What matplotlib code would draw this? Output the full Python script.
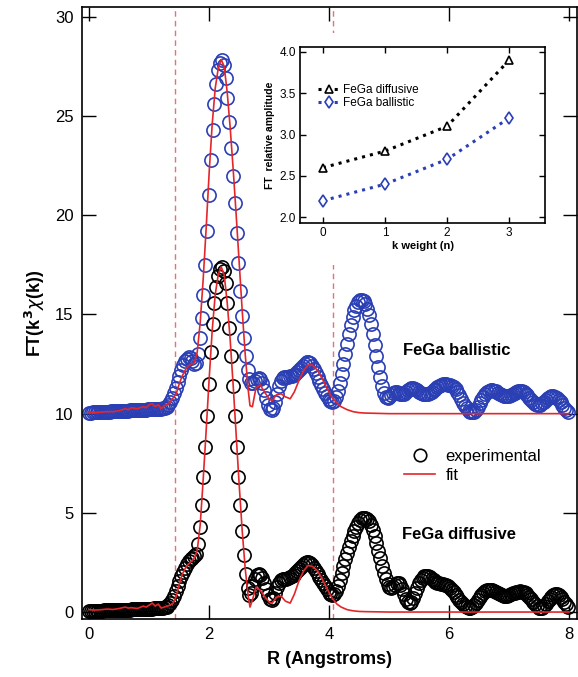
#! /usr/bin/env python3

'''FT magnitude of FeGa EXAFS (diffusive / ballistic) with fits and k-weight inset'''

import matplotlib
matplotlib.use('Agg')
import matplotlib.pyplot as plt
from matplotlib.lines import Line2D
from matplotlib.patches import Rectangle
import numpy as np

# R grid of the experimental data (Angstroms)
R = np.arange(261) * 0.0307

# experimental FT, diffusive sample
exp_diff = [
    0.05, 0.05, 0.06, 0.06, 0.06, 0.07, 0.07, 0.07, 0.08, 0.08,
    0.08, 0.09, 0.09, 0.09, 0.10, 0.10, 0.10, 0.11, 0.11, 0.11,
    0.12, 0.12, 0.12, 0.13, 0.13, 0.13, 0.14, 0.14, 0.15, 0.15,
    0.15, 0.16, 0.16, 0.17, 0.17, 0.18, 0.18, 0.19, 0.19, 0.20,
    0.21, 0.23, 0.27, 0.33, 0.45, 0.62, 0.82, 1.05, 1.30, 1.55,
    1.80, 2.02, 2.22, 2.40, 2.55, 2.65, 2.72, 2.80, 2.95, 3.45,
    4.30, 5.40, 6.80, 8.30, 9.90, 11.50, 13.10, 14.50, 15.60, 16.40,
    16.95, 17.30, 17.40, 17.20, 16.60, 15.60, 14.30, 12.90, 11.40, 9.90,
    8.30, 6.80, 5.40, 4.10, 2.90, 1.90, 1.20, 0.85, 0.95, 1.30,
    1.65, 1.85, 1.90, 1.85, 1.70, 1.45, 1.15, 0.85, 0.65, 0.60,
    0.70, 0.95, 1.25, 1.45, 1.60, 1.65, 1.65, 1.65, 1.70, 1.75,
    1.80, 1.85, 1.95, 2.05, 2.15, 2.25, 2.35, 2.45, 2.50, 2.50,
    2.45, 2.35, 2.20, 2.05, 1.90, 1.75, 1.60, 1.45, 1.30, 1.15,
    1.00, 0.90, 0.85, 0.90, 1.05, 1.30, 1.60, 1.95, 2.30, 2.65,
    3.00, 3.30, 3.60, 3.85, 4.10, 4.30, 4.50, 4.62, 4.72, 4.76,
    4.75, 4.70, 4.58, 4.40, 4.15, 3.85, 3.50, 3.10, 2.70, 2.30,
    1.95, 1.65, 1.40, 1.25, 1.20, 1.25, 1.35, 1.45, 1.45, 1.35,
    1.15, 0.90, 0.65, 0.50, 0.45, 0.50, 0.70, 0.95, 1.20, 1.45,
    1.60, 1.72, 1.80, 1.82, 1.80, 1.75, 1.68, 1.60, 1.52, 1.48,
    1.45, 1.42, 1.40, 1.38, 1.35, 1.30, 1.22, 1.12, 1.00, 0.88,
    0.75, 0.62, 0.50, 0.40, 0.30, 0.24, 0.20, 0.20, 0.25, 0.35,
    0.48, 0.62, 0.76, 0.88, 0.98, 1.05, 1.10, 1.12, 1.12, 1.10,
    1.05, 1.00, 0.95, 0.90, 0.86, 0.83, 0.82, 0.83, 0.86, 0.90,
    0.94, 0.98, 1.01, 1.03, 1.04, 1.03, 1.00, 0.94, 0.86, 0.76,
    0.64, 0.52, 0.40, 0.30, 0.22, 0.18, 0.20, 0.28, 0.40, 0.54,
    0.67, 0.78, 0.86, 0.90, 0.90, 0.86, 0.78, 0.66, 0.52, 0.38,
    0.26]

# experimental FT, ballistic sample (offset by 10)
exp_ball = [
    10.05, 10.05, 10.06, 10.06, 10.07, 10.07, 10.08, 10.08, 10.09, 10.09,
    10.10, 10.10, 10.11, 10.11, 10.12, 10.12, 10.13, 10.13, 10.14, 10.14,
    10.15, 10.15, 10.16, 10.16, 10.17, 10.17, 10.18, 10.18, 10.19, 10.19,
    10.20, 10.20, 10.21, 10.21, 10.22, 10.22, 10.23, 10.23, 10.24, 10.25,
    10.26, 10.30, 10.36, 10.46, 10.60, 10.80, 11.05, 11.30, 11.60, 11.90,
    12.20, 12.45, 12.65, 12.78, 12.85, 12.80, 12.65, 12.50, 12.55, 13.00,
    13.80, 14.80, 16.00, 17.50, 19.20, 21.00, 22.80, 24.30, 25.60, 26.60,
    27.30, 27.70, 27.85, 27.60, 26.90, 25.90, 24.70, 23.40, 22.00, 20.60,
    19.10, 17.60, 16.20, 14.90, 13.80, 12.90, 12.20, 11.75, 11.55, 11.55,
    11.65, 11.75, 11.80, 11.75, 11.55, 11.20, 10.80, 10.45, 10.25, 10.20,
    10.30, 10.60, 11.00, 11.40, 11.65, 11.80, 11.85, 11.85, 11.85, 11.88,
    11.90, 11.95, 12.00, 12.08, 12.18, 12.30, 12.42, 12.52, 12.58, 12.60,
    12.55, 12.42, 12.25, 12.05, 11.85, 11.65, 11.45, 11.25, 11.05, 10.88,
    10.72, 10.62, 10.58, 10.65, 10.85, 11.15, 11.55, 12.00, 12.50, 13.00,
    13.50, 14.00, 14.45, 14.85, 15.20, 15.45, 15.62, 15.72, 15.75, 15.70,
    15.55, 15.30, 14.95, 14.50, 14.00, 13.45, 12.90, 12.35, 11.85, 11.40,
    11.05, 10.85, 10.80, 10.85, 10.95, 11.05, 11.10, 11.10, 11.05, 11.00,
    10.98, 11.00, 11.08, 11.18, 11.26, 11.30, 11.30, 11.26, 11.18, 11.10,
    11.04, 11.00, 10.98, 10.98, 11.00, 11.04, 11.10, 11.18, 11.26, 11.34,
    11.40, 11.45, 11.47, 11.48, 11.47, 11.45, 11.42, 11.38, 11.32, 11.22,
    11.08, 10.92, 10.74, 10.56, 10.40, 10.26, 10.15, 10.08, 10.06, 10.10,
    10.20, 10.35, 10.52, 10.70, 10.86, 10.98, 11.08, 11.14, 11.17, 11.18,
    11.16, 11.12, 11.06, 11.00, 10.95, 10.91, 10.89, 10.89, 10.91, 10.95,
    11.00, 11.05, 11.09, 11.12, 11.13, 11.12, 11.08, 11.01, 10.92, 10.81,
    10.70, 10.59, 10.50, 10.44, 10.42, 10.45, 10.52, 10.61, 10.70, 10.78,
    10.84, 10.87, 10.87, 10.84, 10.78, 10.69, 10.57, 10.43, 10.30, 10.18,
    10.10]

# fits (own R points)
fit_R = [0.0, 0.1, 0.2, 0.3, 0.4, 0.5, 0.6, 0.65, 0.7, 0.8,
         0.9, 0.95, 1.0, 1.05, 1.1, 1.15, 1.2, 1.25, 1.3, 1.35,
         1.4, 1.45, 1.5, 1.55, 1.6, 1.65, 1.7, 1.75, 1.8, 1.85,
         1.9, 1.95, 2.0, 2.05, 2.1, 2.15, 2.2, 2.25, 2.3, 2.35,
         2.4, 2.45, 2.5, 2.55, 2.6, 2.65, 2.68, 2.72, 2.78, 2.85,
         2.92, 3.0, 3.05, 3.12, 3.2, 3.27, 3.35, 3.42, 3.5, 3.58,
         3.65, 3.72, 3.8, 3.88, 3.96, 4.05, 4.13, 4.2, 4.3, 4.4,
         4.5, 4.6, 5.0, 6.0, 7.0, 8.0]
fit_diff = [0.12, 0.10, 0.12, 0.15, 0.13, 0.18, 0.25, 0.20, 0.22, 0.18,
            0.30, 0.25, 0.35, 0.45, 0.30, 0.40, 0.20, 0.25, 0.30, 0.35,
            0.45, 0.80, 1.40, 1.90, 2.20, 2.40, 2.55, 2.70, 3.10, 4.40,
            6.70, 9.20, 11.80, 14.20, 16.00, 17.00, 17.40, 17.00, 15.60, 13.70,
            11.40, 8.90, 6.40, 4.10, 2.20, 0.80, 0.25, 0.60, 1.25, 1.10,
            0.80, 0.50, 0.45, 0.75, 0.80, 0.55, 0.45, 0.90, 1.60, 2.10,
            2.35, 2.30, 2.10, 1.70, 1.20, 0.70, 0.40, 0.25, 0.12, 0.06,
            0.03, 0.02, 0.0, 0.0, 0.0, 0.0]
fit_ball = [10.05, 10.05, 10.08, 10.10, 10.10, 10.15, 10.25, 10.20, 10.30, 10.25,
            10.35, 10.30, 10.45, 10.50, 10.35, 10.45, 10.25, 10.40, 10.45, 10.60,
            10.80, 11.00, 11.50, 11.90, 12.20, 12.40, 12.50, 12.55, 13.10, 14.60,
            16.80, 19.40, 22.20, 24.60, 26.40, 27.40, 27.85, 27.50, 26.20, 24.40,
            22.30, 20.00, 17.60, 15.20, 13.00, 11.20, 10.40, 10.35, 11.30, 11.45,
            11.10, 10.75, 10.65, 10.95, 11.00, 10.85, 10.75, 11.10, 11.70, 12.20,
            12.45, 12.45, 12.20, 11.80, 11.30, 10.80, 10.55, 10.35, 10.20, 10.10,
            10.05, 10.03, 10.0, 10.0, 10.0, 10.0]

# fitting window
window = [1.43, 4.07]

# inset: relative FT amplitude vs k weight
kweight = [0, 1, 2, 3]
amp_diff = [2.6, 2.8, 3.1, 3.9]
amp_ball = [2.2, 2.4, 2.7, 3.2]

blue = '#2b3fb5'
red = '#e3262a'

plt.rcParams['font.family'] = ['Liberation Sans', 'DejaVu Sans']

fig = plt.figure(figsize=(5.78, 6.77), dpi=100)
ax = fig.add_axes([0.142, 0.0857, 0.856, 0.904])

for r in window:
    ax.axvline(r, color='#e8707a', ls=(0, (4, 3)), lw=1.0, zorder=1)
ax.plot(R, exp_ball, 'o', ms=9.5, mfc='none', mec=blue, mew=1.2, zorder=2)
ax.plot(R, exp_diff, 'o', ms=9.5, mfc='none', mec='black', mew=1.2, zorder=2)
ax.plot(fit_R, fit_ball, color=red, lw=1.2, zorder=3)
ax.plot(fit_R, fit_diff, color=red, lw=1.2, zorder=3)

ax.set_xlim(-0.12, 8.13)
ax.set_ylim(-0.35, 30.5)
ax.set_xticks([0, 2, 4, 6, 8])
ax.set_yticks([0, 5, 10, 15, 20, 25, 30])
ax.tick_params(direction='in', length=10, width=1, top=True, right=True,
               labelsize=12, pad=6)
for s in ax.spines.values():
    s.set_linewidth(1.2)
ax.set_xlabel('R (Angstroms)', fontsize=13, fontweight='bold', labelpad=6)
ax.set_ylabel(r'FT(k$^\mathbf{3}\chi$(k))', fontsize=13, fontweight='bold', labelpad=6)

ax.text(5.23, 13.2, 'FeGa ballistic', fontsize=12, fontweight='bold', va='center')
ax.text(5.22, 3.9, 'FeGa diffusive', fontsize=12, fontweight='bold', va='center')

handles = [Line2D([], [], ls='none', marker='o', ms=9, mfc='none', mec='black', mew=1.2),
           Line2D([], [], color=red, lw=1.2)]
ax.legend(handles, ['experimental', 'fit'], loc='center left',
          bbox_to_anchor=(0.62, 0.25), frameon=False, fontsize=12,
          handlelength=1.9, handletextpad=0.6, labelspacing=0.2)

# white area behind the inset
fig.patches.append(Rectangle((0.453, 0.6086), 0.516, 0.343, transform=fig.transFigure,
                             facecolor='white', edgecolor='none', zorder=1))

ax2 = fig.add_axes([0.519, 0.6706, 0.424, 0.26], zorder=2)
ax2.plot(kweight, amp_diff, ls=':', color='black', lw=2.2, marker='^', ms=5.5,
         mfc='white', mec='black', mew=1.2, label='FeGa diffusive')
ax2.plot(kweight, amp_ball, ls=':', color=blue, lw=2.2, marker='d', ms=6.5,
         mfc='white', mec=blue, mew=1.2, label='FeGa ballistic')
ax2.set_xlim(-0.37, 3.58)
ax2.set_ylim(1.93, 4.06)
ax2.set_xticks(kweight)
ax2.set_yticks([2.0, 2.5, 3.0, 3.5, 4.0])
ax2.set_yticklabels(['2.0', '2.5', '3.0', '3.5', '4.0'])
ax2.tick_params(direction='in', length=4, width=1, top=True, right=True,
                labelsize=8.5, pad=3)
for s in ax2.spines.values():
    s.set_linewidth(1.2)
ax2.set_xlabel('k weight (n)', fontsize=8, fontweight='bold', labelpad=1)
ax2.set_ylabel('FT  relative amplitude', fontsize=7.5, fontweight='bold', labelpad=3)
ax2.legend(loc='center left', bbox_to_anchor=(0.03, 0.72), frameon=False, fontsize=8.5,
           handlelength=1.8, handletextpad=0.3, labelspacing=0.1)

fig.savefig('out.png', dpi=100)
